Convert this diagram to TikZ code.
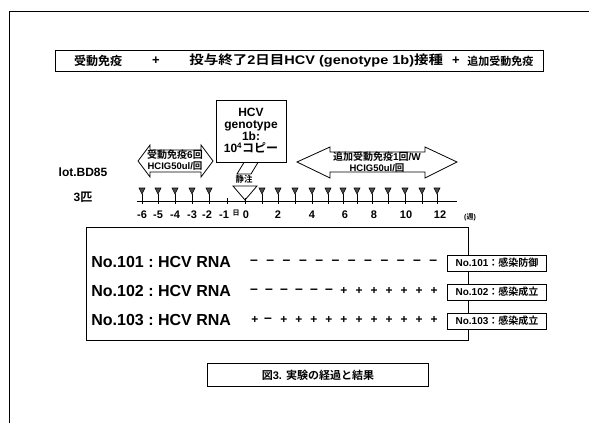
\documentclass[tikz,border=0pt]{standalone}
\usepackage{graphicx}
\usepackage{fontspec}
\setmainfont{Liberation Sans}
\newfontfamily\jp{Noto Sans CJK JP}[BoldFont={* Bold}]
\begin{document}
\begin{tikzpicture}[x=1pt,y=-1pt,line width=0.8pt,
  every node/.style={font=\bfseries, inner sep=0pt},
  frame/.style={draw, fill=white},
  fs/.style={font=\bfseries\fontsize{#1}{#1}\selectfont}]
\useasboundingbox (0,0) rectangle (589,423);
\fill[white] (0,0) rectangle (589,423);
\draw (589,11) -- (9,11) -- (9,423);

% title
\node[frame, minimum width=488pt, minimum height=21pt] (title) at (299,61) {};
\node[fs=12] (t1) at (98,61) {\jp 受動免疫};
\node[fs=13] (t2) at (156,61) {+};
\node[fs=12.5, anchor=west] (t3) at (189,61) {\scalebox{1.16}[1]{{\jp 投与終了}2{\jp 日目}HCV (genotype 1b){\jp 接種}}};
\node[fs=13] (t4) at (456,61) {+};
\node[fs=11, anchor=west] (t5) at (467,61) {\jp 追加受動免疫};

% HCV box
\node[frame, minimum width=70pt, minimum height=62pt, align=center, fs=12] (hcv) at (251,131)
  {\fontsize{12}{12.5}\selectfont HCV\\genotype\\1b:\\10\textsuperscript{4}{\jp コピー}};
\coordinate (shaftA) at ([xshift=-7pt]hcv.south);
\coordinate (shaftB) at ([xshift=7pt]hcv.south);
\draw (shaftA) -- (237,174) -- (251,174) -- (shaftB);
\node[fs=8.5] (iv) at (244,179) {\jp 静注};
\draw[fill=white] (233,186) -- (257,186) -- (245,200) -- cycle;

% left double arrow
\draw (138,161) -- (150,145) -- (150,150) -- (201,150) -- (201,145) -- (213,161)
  -- (201,177) -- (201,172) -- (150,172) -- (150,177) -- cycle;
\node[fs=10] (la1) at (175,155) {{\jp 受動免疫}6{\jp 回}};
\node[fs=9.5] (la2) at (175,166.5) {HCIG50ul/{\jp 回}};

% right double arrow
\draw (297,162) -- (330,147) -- (330,152) -- (425,152) -- (425,147) -- (457,162)
  -- (425,178) -- (425,172) -- (330,172) -- (330,178) -- cycle;
\node[fs=10] (ra1) at (377,157) {{\jp 追加受動免疫}1{\jp 回}/W};
\node[fs=9.5] (ra2) at (377,168) {HCIG50ul/{\jp 回}};

% left labels
\node[fs=12] (lot) at (83,172) {lot.BD85};
\node[fs=12] (n3) at (83,197) {3{\jp 匹}};

% axis
\coordinate (ax0) at (137,201);
\coordinate (ax1) at (457,201);
\draw (ax0) -- (ax1);
\foreach \x in {142,158,175,192,209,227,245,262,278,295,312,328,343,357,372,388,405,422,437}
  \draw (\x,198) -- (\x,204);
\foreach \x in {142,158,175,192,209,262,278,295,312,328,343,357,372,388,405,422,437}{
  \draw[fill=black!70, line width=0.6pt] (\x-3,188) -- (\x+3,188) -- (\x,194) -- cycle;
  \draw (\x,194) -- (\x,201);
}
\foreach \x/\l in {142/-6,158/-5,175/-4,192/-3,207/-2,224/-1,246/0,278/2,312/4,345/6,374/8,406/10,440/12}
  \node[fs=11] at (\x,215) {\l};
\node[fs=7] (day) at (236,213) {\jp 日};
\node[fs=7] (wk) at (470,217) {({\jp 週})};

% results box
\draw (86,227) rectangle (468,340);
\foreach \y/\n in {262/101,291/102,320/103}
  \node[fs=16, anchor=west] at (91,\y) {No.\n\ :\ HCV RNA};
% row symbols
\foreach \i in {0,...,11}
  \node[fs=14] at (254+16.3*\i,262) {–};
\foreach \i in {0,...,5}
  \node[fs=14] at (254+15*\i,291) {–};
\foreach \i in {6,...,12}
  \node[fs=12] at (254+15*\i,291) {+};
\node[fs=12] at (255,320) {+};
\node[fs=14] at (268,320) {–};
\foreach \i in {2,...,12}
  \node[fs=12] at (254+15*\i,320) {+};

\node[frame, minimum width=99pt, minimum height=16pt, fs=10] (r1) at (497,263) {No.101{\jp ：感染防御}};
\node[frame, minimum width=99pt, minimum height=16pt, fs=10] (r2) at (497,292) {No.102{\jp ：感染成立}};
\node[frame, minimum width=99pt, minimum height=16pt, fs=10] (r3) at (497,321) {No.103{\jp ：感染成立}};

% caption
\node[frame, minimum width=221pt, minimum height=23pt, fs=11] (cap) at (318,375) {{\jp 図}3. {\jp 実験の経過と結果}};
\end{tikzpicture}
\end{document}
